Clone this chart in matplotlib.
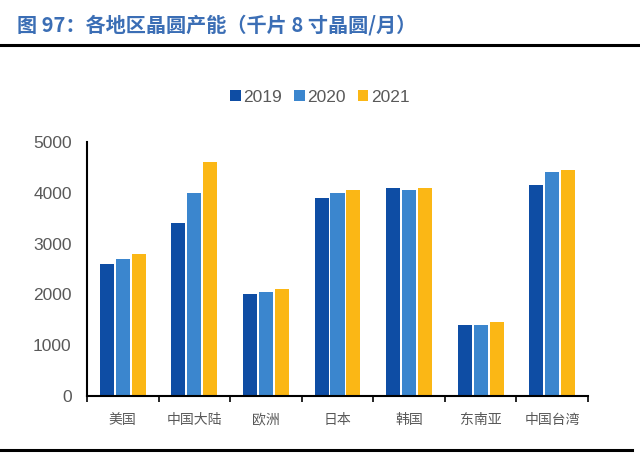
import matplotlib
matplotlib.use("Agg")
import matplotlib.pyplot as plt
import numpy as np
from matplotlib.lines import Line2D

categories = ["美国", "中国大陆", "欧洲", "日本", "韩国", "东南亚", "中国台湾"]
years = ["2019", "2020", "2021"]
v2019 = [2600, 3400, 2000, 3900, 4100, 1400, 4150]
v2020 = [2700, 4000, 2050, 4000, 4050, 1400, 4400]
v2021 = [2800, 4600, 2100, 4050, 4100, 1450, 4450]
yticks = [0, 1000, 2000, 3000, 4000, 5000]
title = "图 97：各地区晶圆产能（千片 8 寸晶圆/月）"

colors = ["#0E4DA4", "#3B86CE", "#FBB715"]
cjk = ["Noto Sans CJK SC", "DejaVu Sans"]

fig = plt.figure(figsize=(6.4, 4.54), dpi=100)
ax = fig.add_axes([87/640, 1-396/454, (588-87)/640, (396-142)/454])

x = np.arange(len(categories))
step = 0.223
w = 0.196
for i, (vals, yr) in enumerate(zip([v2019, v2020, v2021], years)):
    ax.bar(x + (i-1)*step, vals, width=w, color=colors[i], label=yr, zorder=2)

ax.set_xlim(-0.5, len(categories)-0.5)
ax.set_ylim(0, 5000)
ax.set_yticks(yticks)
ax.set_yticklabels([str(t) for t in yticks], fontfamily="Liberation Sans", fontsize=12.5, color="#595959")
ax.tick_params(axis="y", length=0, pad=11)
ax.set_xticks(x)
ax.set_xticklabels(categories, fontfamily=cjk, fontsize=10, fontweight="light",
                   color="#595959", va="baseline")
ax.tick_params(axis="x", length=0, pad=20)
ax.set_xticks(np.arange(len(categories)+1)-0.5, minor=True)
ax.tick_params(axis="x", which="minor", length=4, width=1.2, direction="out", color="black")
for s in ["top", "right"]:
    ax.spines[s].set_visible(False)
for s in ["left", "bottom"]:
    ax.spines[s].set_linewidth(1.5)
    ax.spines[s].set_color("black")

leg = fig.legend(loc="center", bbox_to_anchor=(320/640, 1-97/454), ncol=3, frameon=False,
                 handlelength=0.6, handleheight=0.6, handletextpad=0.15, columnspacing=0.7,
                 prop={"family": "Liberation Sans", "size": 12.5})
for t in leg.get_texts():
    t.set_color("#595959")

fig.text(17/640, 1-25/454, title, fontfamily=cjk, fontsize=14.5, fontweight="bold",
         color="#3B6EB5", va="center", ha="left")
fig.add_artist(Line2D([0, 1], [1-45/454, 1-45/454], color="black", lw=2.2, transform=fig.transFigure))
fig.add_artist(Line2D([0, 632/640], [1-450/454, 1-450/454], color="black", lw=2.2, transform=fig.transFigure))

fig.savefig("out.png", dpi=100)
